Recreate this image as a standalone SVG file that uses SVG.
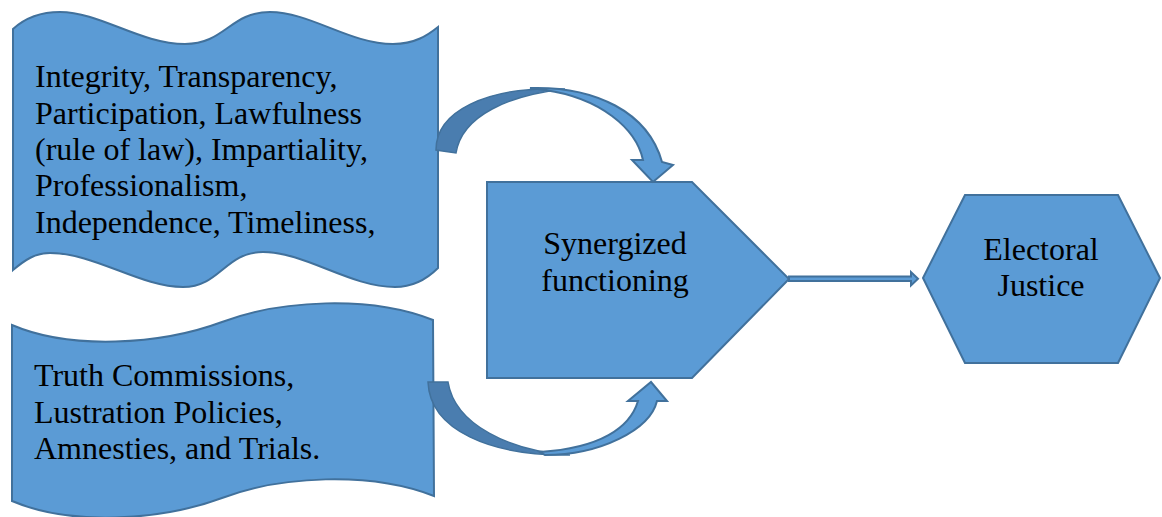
<svg xmlns="http://www.w3.org/2000/svg" width="1162" height="517" viewBox="0 0 1162 517">
  <defs>
    <style>
      .shape { fill: #5B9BD5; stroke: #41719C; stroke-width: 2; stroke-linejoin: miter; }
      .back { fill: #4A7DAF; stroke: #41719C; stroke-width: 1.5; }
      .front { fill: #5B9BD5; stroke: #41719C; stroke-width: 2; stroke-linejoin: miter; }
      .label { font-family: 'Liberation Serif', 'Times New Roman', serif; font-size: 32px; fill: #000000; }
      .mid { text-anchor: middle; }
    </style>
  </defs>
  <rect width="1162" height="517" fill="#ffffff"/>

  <!-- Principles: double-wave banner -->
  <g id="principles">
    <path class="shape" d="M13,29 C25,18 40,12 60,12 C100,12 140,44 185,44 C225,44 230,12 270,12 C310,12 350,44 393,44 C415,44 428,35 438,27 L438,268 C428,278 415,287 395,287 C350,287 305,252 263,252 C225,252 220,287 183,287 C140,287 95,253 50,253 C35,253 25,260 13,270 Z"/>
    <text class="label" x="35" y="87">Integrity, Transparency,</text>
    <text class="label" x="35" y="123.5">Participation, Lawfulness</text>
    <text class="label" x="35" y="160">(rule of law), Impartiality,</text>
    <text class="label" x="35" y="196">Professionalism,</text>
    <text class="label" x="35" y="232.5">Independence, Timeliness,</text>
  </g>

  <!-- Transitional mechanisms: single-wave banner -->
  <g id="mechanisms">
    <path class="shape" d="M12,325 C70,350 160,345 222,322 C280,300 370,295 433,320 L434,496 C370,471 280,476 222,498 C160,521 70,526 12,501 Z"/>
    <text class="label" x="34" y="386">Truth Commissions,</text>
    <text class="label" x="34" y="422.5">Lustration Policies,</text>
    <text class="label" x="34" y="459">Amnesties, and Trials.</text>
  </g>

  <!-- Synergized functioning: pentagon -->
  <g id="synergy">
    <polygon class="shape" points="487,182 692,182 789,279 692,378 487,378"/>
    <text class="label mid" x="615" y="254">Synergized</text>
    <text class="label mid" x="615" y="290.5">functioning</text>
  </g>

  <!-- Electoral justice: hexagon -->
  <g id="justice">
    <polygon class="shape" points="923,278 965,195 1118,195 1160,278 1118,363 965,363"/>
    <text class="label mid" x="1041" y="260">Electoral</text>
    <text class="label mid" x="1041" y="296">Justice</text>
  </g>

  <!-- Connectors -->
  <g id="connectors">
    <!-- curved arrow from the principles banner down into the pentagon -->
    <path class="back" d="M436,150 C436,112 485,86 565,89 C510,95 462,115 456,153 Z"/>
    <path class="front" d="M530,88 C595,86 648,112 662,162 L673,165 L653,182 L632,160 L643,160 C636,128 600,98 545,90 Z"/>
    <!-- curved arrow from the mechanisms banner up into the pentagon -->
    <path class="back" d="M428,382 C430,430 490,456 570,455 C510,451 455,425 448,382 Z"/>
    <path class="front" d="M545,455 C600,455 650,430 657,401 L667,401 L651,382 L628,401 L638,401 C630,428 600,448 540,452 Z"/>
    <!-- straight block arrow to the hexagon -->
    <polygon class="front" stroke-width="1.5" points="789,276.5 911,276.5 911,272 918,278.8 911,285.5 911,281 789,281"/>
  </g>
</svg>
